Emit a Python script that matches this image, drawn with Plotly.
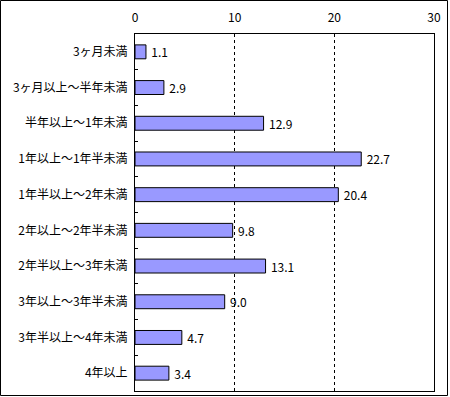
import plotly.graph_objects as go

categories = ["3ヶ月未満", "3ヶ月以上～半年未満", "半年以上～1年未満", "1年以上～1年半未満",
              "1年半以上～2年未満", "2年以上～2年半未満", "2年半以上～3年未満",
              "3年以上～3年半未満", "3年半以上～4年未満", "4年以上"]
values = [1.1, 2.9, 12.9, 22.7, 20.4, 9.8, 13.1, 9.0, 4.7, 3.4]
x_ticks = [0, 10, 20, 30]

W, H = 450, 397
L, R, T, B = 135, 434, 34, 391
pw, ph = R - L, B - T

font = dict(family="Noto Sans CJK JP, sans-serif", size=12, color="black")

fig = go.Figure(go.Bar(
    x=values, y=categories, orientation="h",
    marker=dict(color="#9999FF", line=dict(color="black", width=1)),
    text=[f"\u2009{v:.1f}" for v in values], textposition="outside",
    constraintext="none",
    textfont=font, cliponaxis=False,
))

fig.update_layout(
    width=W, height=H, margin=dict(l=L, r=W - R, t=T, b=H - B, pad=0),
    paper_bgcolor="white", plot_bgcolor="white", font=font,
    bargap=0.61, showlegend=False,
    xaxis=dict(range=[0, 30], side="top", tickvals=x_ticks, ticks="",
               showgrid=True, gridcolor="black", griddash="3px,3px", gridwidth=1,
               showline=True, linecolor="black", linewidth=1, mirror=True,
               zeroline=False, fixedrange=True, ticklabelstandoff=6),
    yaxis=dict(autorange="reversed", type="category", tickson="boundaries",
               ticks="inside", ticklen=3, tickcolor="black",
               showline=True, linecolor="black", linewidth=1, mirror=True,
               showgrid=False, fixedrange=True, ticklabelstandoff=4),
    shapes=[dict(type="rect", xref="paper", yref="paper",
                 x0=(0.5 - L) / pw, x1=(447.5 - L) / pw,
                 y0=(B - 395.5) / ph, y1=(B - 0.5) / ph,
                 line=dict(color="black", width=1), layer="above")],
)

fig.write_html("out.html")
